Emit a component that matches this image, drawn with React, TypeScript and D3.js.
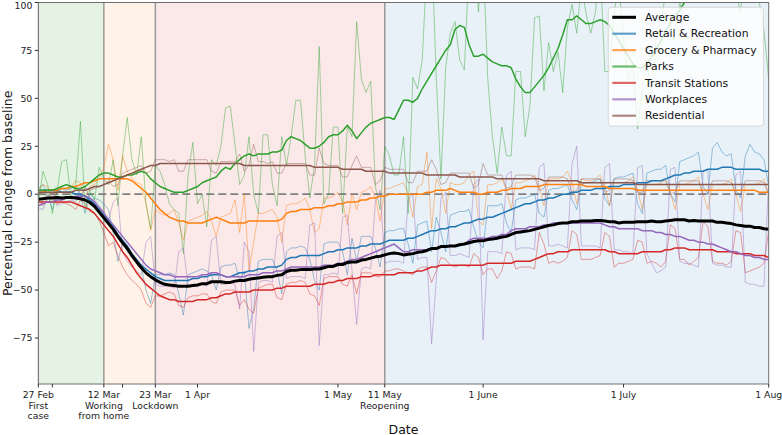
import * as d3 from "d3";
import React, { useRef, useEffect } from "react";

// Google mobility, Netherlands, daily values from 27 Feb 2020 to 1 Aug 2020
const startDate = new Date(2020, 1, 27);
const endDate = new Date(2020, 7, 1);

// raw daily values (thin lines), one row per week starting on a Thursday
const retailRaw = [
  3, 5, 0, -8, 2, 3, 2,
  3, 4, -1, -10, 0, -2, -3,
  -5, -8, -20, -35, -25, -30, -33,
  -35, -38, -50, -57, -42, -42, -42,
  -41, -42, -52, -63, -42, -41, -40,
  -39, -40, -42, -50, -38, -37, -37,
  -36, -45, -40, -70, -60, -35, -34,
  -34, -34, -40, -52, -30, -28, -28,
  -27, -28, -34, -45, -50, -26, -25,
  -25, -25, -30, -42, -23, -35, -22,
  -22, -22, -28, -38, -20, -19, -19,
  -18, -18, -26, -36, -16, -15, -14,
  -30, -12, -20, -30, -11, -10, -9,
  -9, -8, -17, -25, -28, -6, -6,
  -6, -5, -15, -20, -3, -2, -2,
  -1, 0, -10, -12, 2, 3, 3,
  4, 5, -3, -8, 5, 6, 6,
  7, 8, -2, -6, 8, 9, 9,
  10, 11, -5, -10, 11, 12, 13,
  13, 15, 0, -4, 17, 18, 19,
  20, 22, 4, 0, 24, 27, 22,
  20, 21, 2, -2, 20, 26, 22,
  21, 18, 4,
];
const groceryRaw = [
  2, 5, 4, -4, 2, 3, 3,
  4, 7, 6, -2, 4, 5, 8,
  14, 26, 18, 2, 20, 12, 8,
  6, 5, -5, -19, -8, -10, -11,
  -10, -8, -15, -24, -14, -13, -12,
  -11, -9, -14, -22, -12, -11, -10,
  -3, -20, 0, -40, -25, -10, -10,
  -9, -8, -12, -25, -6, -5, -5,
  -4, -2, -8, -20, -18, -2, -2,
  -1, 1, -4, -16, 0, -8, 1,
  2, 4, -2, -14, 3, 3, 4,
  5, 6, 0, -12, 4, 5, 22,
  -18, 8, 3, -10, 6, 5, 5,
  6, 10, 12, -14, -16, 5, 5,
  6, 8, 2, -8, 6, 6, 7,
  8, 10, 4, -6, 8, 8, 8,
  9, 12, 6, -5, 8, 7, 7,
  8, 10, 4, -6, 6, 6, 6,
  7, 9, 2, -8, 5, 5, 5,
  6, 8, 1, -8, 5, 5, 6,
  7, 9, 0, -8, 5, 5, 5,
  6, 8, 0, -9, 5, 5, 5,
  6, 8, -1,
];
const parksRaw = [
  -5, 12, 5, -10, 2, 17, 18,
  -2, 5, 38, -8, 2, -3, 14,
  8, 5, 18, -6, 20, 40, 18,
  10, 30, -5, -18, 15, 12, 5,
  -5, -8, -10, -31, 10, 27, -5,
  0, -17, 18, 15, 25, 45, 46,
  26, 5, 10, 30, 0, -10, 31,
  31, 5, -6, 30, 15, 30, 49,
  49, 20, -2, 15, 77, -5, 0,
  35, 35, -10, 35, 30, 90, 60,
  53, 59, 4, -8, 25, 20, 10,
  10, 30, -10, 61, 55, 70, 120,
  130, 61, 8, 66, 84, 90, 70,
  65, 120, 130, 95, 125, 60, 30,
  11, 35, 20, 20, 64, 64, 30,
  46, 92, 93, 54, 79, 64, 74,
  53, 87, 99, 84, 110, 94, 84,
  95, 120, 64, 64, 95, 110, 80,
  60, 67, 34, 55, 70, 50, 85,
  90, 105, 120, 130, 95, 115, 105,
  130, 120, 140, 110, 120, 100, 130,
  110, 140, 105, 95, 120, 125, 110,
  100, 85, 60,
];
const transitRaw = [
  -3, -6, -2, -1, -5, -4, -5,
  -6, -8, -3, -5, -9, -10, -14,
  -20, -27, -25, -32, -38, -42, -45,
  -47, -50, -57, -59, -53, -53, -52,
  -51, -52, -58, -59, -54, -53, -53,
  -52, -52, -56, -57, -51, -50, -50,
  -50, -58, -55, -60, -62, -49, -48,
  -47, -47, -54, -55, -47, -46, -46,
  -45, -46, -52, -53, -58, -44, -43,
  -43, -43, -47, -48, -42, -52, -41,
  -41, -41, -43, -43, -40, -40, -39,
  -39, -40, -41, -42, -39, -38, -38,
  -46, -40, -33, -34, -37, -38, -37,
  -37, -38, -31, -33, -42, -39, -39,
  -44, -40, -30, -31, -39, -38, -38,
  -38, -39, -20, -26, -36, -35, -36,
  -35, -33, -19, -21, -34, -34, -34,
  -33, -32, -20, -22, -38, -36, -36,
  -35, -34, -24, -25, -36, -35, -36,
  -38, -35, -16, -18, -34, -34, -37,
  -35, -33, -14, -17, -35, -36, -36,
  -37, -35, -19, -20, -41, -40, -39,
  -38, -36, -19,
];
const workplacesRaw = [
  -7, -8, -2, 1, -6, -5, -4,
  -3, -4, 3, 4, -2, -3, -6,
  -9, -14, -4, -2, -30, -35, -38,
  -40, -42, -25, -22, -47, -48, -48,
  -48, -49, -30, -28, -48, -48, -48,
  -47, -48, -24, -22, -47, -47, -46,
  -47, -60, -25, -30, -82, -46, -45,
  -45, -46, -22, -20, -44, -43, -43,
  -43, -44, -16, -15, -79, -42, -42,
  -41, -42, -12, -11, -40, -68, -39,
  -38, -39, -4, 2, -36, -35, -35,
  -35, -36, -3, 0, -34, -33, -33,
  -78, -45, -2, 1, -32, -32, -31,
  -32, -33, 5, 8, -76, -30, -30,
  -30, -31, 10, 12, -29, -28, -28,
  -28, -29, 14, 16, -27, -27, -26,
  -27, -28, 16, 25, -27, -27, -27,
  -27, -28, 14, 16, -29, -29, -30,
  -30, -31, 14, 15, -31, -36, -41,
  -40, -38, 13, 14, -35, -36, -36,
  -37, -38, 12, 13, -36, -37, -37,
  -38, -38, 10, 12, -46, -47, -47,
  -48, -48, 8,
];
const residentialRaw = [
  1, 0, -1, 2, 1, 1, 1,
  1, 0, -1, 3, 2, 3, 4,
  5, 7, 4, 5, 11, 12, 13,
  14, 15, 11, 12, 18, 18, 18,
  17, 18, 12, 12, 18, 18, 18,
  18, 18, 12, 11, 17, 17, 17,
  17, 21, 12, 15, 26, 17, 17,
  16, 17, 11, 11, 16, 16, 16,
  16, 16, 10, 10, 24, 16, 15,
  15, 15, 9, 9, 15, 20, 14,
  14, 14, 5, 7, 14, 13, 13,
  13, 13, 6, 6, 12, 12, 12,
  18, 13, 5, 6, 11, 11, 11,
  11, 11, 3, 5, 16, 10, 10,
  10, 10, 3, 4, 10, 10, 10,
  10, 9, 2, 3, 9, 9, 9,
  9, 8, 1, 2, 8, 8, 8,
  8, 8, 1, 2, 8, 8, 8,
  8, 7, 1, 1, 7, 7, 7,
  7, 7, 0, 1, 7, 7, 7,
  7, 7, 0, 0, 7, 7, 7,
  7, 6, 0, 0, 7, 7, 7,
  7, 6, 0,
];

// smoothed daily values (thick lines)
const retailSmooth = [
  2, 2, 2, 2, 2, 1, 1,
  1, 0, 0, -1, -3, -5, -8,
  -11, -14, -17, -21, -24, -27, -31,
  -34, -37, -39, -41, -43, -44, -45,
  -45, -45, -45, -45, -45, -44, -44,
  -43, -43, -42, -42, -42, -43, -43,
  -42, -41, -41, -40, -40, -39, -39,
  -38, -38, -38, -37, -34, -33, -33,
  -32, -32, -32, -32, -32, -31, -30,
  -30, -29, -29, -28, -28, -28, -27,
  -27, -26, -26, -26, -25, -24, -24,
  -24, -24, -23, -23, -22, -21, -20,
  -19, -19, -18, -18, -17, -17, -16,
  -15, -15, -14, -13, -13, -12, -12,
  -11, -10, -9, -8, -7, -6, -5,
  -5, -4, -3, -3, -2, -2, -1,
  0, 0, 1, 1, 2, 2, 2,
  3, 3, 3, 4, 4, 4, 5,
  5, 5, 6, 6, 6, 7, 7,
  7, 8, 9, 10, 10, 11, 11,
  12, 12, 12, 13, 13, 13, 14,
  14, 14, 13, 13, 13, 13, 13,
  13, 12, 12,
];
const grocerySmooth = [
  1, 1, 2, 2, 2, 3, 3,
  4, 4, 5, 6, 6, 7, 8,
  8, 8, 8, 8, 8, 8, 7,
  5, 3, 1, -2, -5, -8, -10,
  -12, -13, -14, -14, -15, -15, -15,
  -15, -14, -13, -12, -13, -14, -15,
  -15, -15, -15, -14, -14, -14, -14,
  -14, -14, -14, -13, -10, -9, -9,
  -8, -8, -8, -7, -7, -7, -6,
  -6, -5, -5, -4, -4, -4, -3,
  -3, -2, -2, -1, -1, 0, 0,
  0, 0, 0, 0, 0, 0, 1,
  1, 2, 2, 2, 3, 2, 1,
  1, 1, 1, 0, 0, 1, 1,
  1, 2, 2, 3, 3, 3, 4,
  4, 4, 4, 5, 5, 5, 5,
  5, 5, 5, 5, 5, 4, 4,
  4, 4, 4, 3, 3, 3, 3,
  3, 3, 2, 2, 2, 2, 2,
  2, 2, 2, 2, 2, 2, 2,
  2, 2, 2, 2, 2, 2, 2,
  2, 2, 2, 2, 2, 2, 2,
  1, 1, 1,
];
const parksSmooth = [
  2, 2, 2, 2, 3, 4, 5,
  4, 3, 3, 4, 6, 8, 10,
  11, 11, 10, 9, 9, 10, 10,
  11, 12, 11, 8, 6, 4, 3,
  2, 1, 1, 1, 2, 3, 4,
  6, 7, 8, 9, 12, 14, 13,
  16, 18, 20, 21, 20, 21, 21,
  21, 22, 22, 23, 28, 30, 29,
  28, 26, 24, 24, 25, 27, 30,
  31, 31, 33, 36, 33, 29, 32,
  35, 37, 38, 39, 40, 40, 39,
  44, 49, 49, 48, 50, 55, 59,
  63, 67, 71, 75, 78, 86, 88,
  87, 78, 72, 72, 73, 71, 69,
  68, 67, 67, 66, 60, 56, 53,
  53, 56, 59, 62, 66, 71, 76,
  83, 91, 91, 93, 91, 89, 89,
  90, 91, 90, 88, 84, 80, 76,
  72, 68, 66, 66, 68, 72, 76,
  80, 85, 89, 93, 96, 100, 103,
  106, 108, 110, 112, 113, 112, 110,
  110, 112, 115, 118, 117, 115, 114,
  116, 118, 120,
];
const transitSmooth = [
  -4, -4, -4, -4, -4, -4, -4,
  -4, -5, -6, -7, -8, -10, -13,
  -16, -19, -22, -26, -30, -33, -37,
  -41, -44, -47, -49, -51, -53, -54,
  -55, -55, -56, -56, -56, -56, -55,
  -55, -55, -54, -54, -53, -52, -52,
  -51, -51, -51, -51, -50, -50, -50,
  -50, -50, -49, -49, -48, -48, -48,
  -48, -48, -48, -47, -47, -47, -46,
  -46, -45, -45, -44, -44, -44, -43,
  -43, -43, -42, -42, -42, -42, -42,
  -41, -41, -41, -41, -40, -40, -39,
  -38, -38, -37, -37, -37, -37, -37,
  -37, -37, -37, -37, -37, -36, -36,
  -36, -36, -36, -36, -35, -35, -35,
  -35, -34, -33, -32, -31, -31, -30,
  -30, -30, -29, -29, -29, -29, -29,
  -29, -29, -29, -30, -30, -31, -31,
  -31, -31, -31, -30, -30, -30, -30,
  -30, -29, -29, -28, -28, -28, -29,
  -29, -29, -29, -29, -29, -30, -30,
  -30, -30, -31, -31, -31, -31, -32,
  -32, -32, -33,
];
const workplacesSmooth = [
  -6, -5, -4, -4, -3, -3, -2,
  -2, -1, -1, -1, -2, -4, -7,
  -10, -13, -16, -19, -22, -25, -28,
  -31, -34, -37, -39, -40, -41, -42,
  -42, -43, -43, -43, -43, -43, -43,
  -42, -42, -41, -41, -42, -43, -43,
  -43, -43, -43, -42, -42, -42, -41,
  -41, -41, -40, -40, -39, -38, -38,
  -38, -38, -38, -38, -38, -37, -37,
  -37, -36, -36, -35, -34, -34, -33,
  -32, -31, -30, -29, -28, -27, -26,
  -28, -30, -30, -29, -29, -29, -29,
  -28, -28, -27, -27, -27, -27, -26,
  -26, -24, -23, -23, -23, -23, -22,
  -22, -21, -21, -19, -18, -18, -18,
  -17, -17, -17, -16, -16, -15, -15,
  -15, -15, -15, -15, -15, -15, -15,
  -15, -15, -16, -17, -17, -18, -18,
  -18, -18, -18, -19, -19, -19, -20,
  -20, -21, -21, -22, -22, -23, -24,
  -24, -25, -25, -26, -26, -27, -28,
  -29, -30, -30, -31, -32, -32, -33,
  -33, -34, -34,
];
const residentialSmooth = [
  1, 1, 1, 1, 1, 1, 1,
  1, 2, 2, 2, 3, 4, 4,
  5, 6, 7, 8, 9, 10, 11,
  12, 13, 14, 15, 15, 16, 16,
  16, 16, 16, 16, 16, 16, 16,
  16, 16, 16, 16, 16, 16, 16,
  16, 16, 15, 15, 15, 15, 15,
  15, 15, 15, 15, 15, 15, 15,
  15, 15, 15, 14, 14, 14, 14,
  14, 14, 13, 13, 13, 13, 13,
  12, 12, 12, 12, 12, 11, 11,
  11, 11, 11, 11, 11, 11, 10,
  10, 10, 10, 10, 10, 10, 9,
  9, 9, 9, 9, 9, 9, 9,
  8, 8, 8, 8, 8, 8, 8,
  8, 8, 8, 7, 7, 7, 7,
  7, 7, 7, 7, 6, 6, 6,
  6, 6, 6, 6, 6, 6, 6,
  6, 6, 5, 5, 5, 5, 5,
  5, 5, 5, 5, 5, 5, 5,
  5, 5, 5, 5, 5, 5, 5,
  5, 5, 5, 5, 5, 5, 5,
  5, 5, 5,
];

const categories = ["Retail & Recreation", "Grocery & Pharmacy", "Parks", "Transit Stations", "Workplaces", "Residential"];
const colors = ["#1f77b4", "#ff7f0e", "#2ca02c", "#d62728", "#9467bd", "#8c564b"];
const rawSeries = [retailRaw, groceryRaw, parksRaw, transitRaw, workplacesRaw, residentialRaw];
const smoothSeries = [retailSmooth, grocerySmooth, parksSmooth, transitSmooth, workplacesSmooth, residentialSmooth];
// the average line is taken over these three
const averageOf = [retailSmooth, transitSmooth, workplacesSmooth];

const phaseStarts = [new Date(2020, 1, 27), new Date(2020, 2, 12), new Date(2020, 2, 23), new Date(2020, 4, 11)];
const phaseEnds = [new Date(2020, 2, 12), new Date(2020, 2, 23), new Date(2020, 4, 11), new Date(2020, 7, 1)];
const phaseColors = ["#2ca02c", "#ff7f0e", "#d62728", "#1f77b4"];
const phaseOpacity = [0.12, 0.09, 0.1, 0.1];

const tickDates = [
  new Date(2020, 1, 27), new Date(2020, 2, 1), new Date(2020, 2, 12), new Date(2020, 2, 16),
  new Date(2020, 2, 23), new Date(2020, 3, 1), new Date(2020, 4, 1), new Date(2020, 4, 11),
  new Date(2020, 5, 1), new Date(2020, 6, 1), new Date(2020, 7, 1),
];
const tickLabels = [
  ["27 Feb", "First", "case"], [], ["12 Mar", "Working", "from home"], [],
  ["23 Mar", "Lockdown"], ["1 Apr"], ["1 May"], ["11 May", "Reopening"],
  ["1 June"], ["1 July"], ["1 Aug"],
];
const yTicks = [-75, -50, -25, 0, 25, 50, 75, 100];

const width = 782;
const height = 435;
const margin = { top: 2.5, right: 13.3, bottom: 51, left: 38.3 };
const font = "DejaVu Sans, Verdana, sans-serif";

export default function App() {
  const ref = useRef<SVGSVGElement>(null);

  useEffect(() => {
    draw();
  }, []);

  const draw = () => {
    const svg = d3.select(ref.current);
    svg.selectAll("*").remove();

    const x = d3.scaleTime().domain([startDate, endDate]).range([margin.left, width - margin.right]);
    const y = d3.scaleLinear().domain([-99, 100]).range([height - margin.bottom, margin.top]);
    const dayAt = (i: number) => d3.timeDay.offset(startDate, i);

    const x0 = margin.left, x1 = width - margin.right;
    const y0 = margin.top, y1 = height - margin.bottom;

    svg.append("defs").append("clipPath").attr("id", "plot-clip")
      .append("rect").attr("x", x0).attr("y", y0).attr("width", x1 - x0).attr("height", y1 - y0);

    const plot = svg.append("g").attr("clip-path", "url(#plot-clip)");

    // shaded phases
    plot.selectAll("rect.phase")
      .data(phaseStarts)
      .enter()
      .append("rect")
      .attr("class", "phase")
      .attr("x", d => x(d))
      .attr("y", y0)
      .attr("width", (d, i) => x(phaseEnds[i]) - x(d))
      .attr("height", y1 - y0)
      .attr("fill", (d, i) => phaseColors[i])
      .attr("fill-opacity", (d, i) => phaseOpacity[i]);

    // event lines
    plot.selectAll("line.event")
      .data(phaseStarts)
      .enter()
      .append("line")
      .attr("x1", d => x(d)).attr("x2", d => x(d))
      .attr("y1", y0).attr("y2", y1)
      .attr("stroke", "#9a9a9a")
      .attr("stroke-width", 1.5);

    // baseline
    plot.append("line")
      .attr("x1", x0).attr("x2", x1)
      .attr("y1", y(0)).attr("y2", y(0))
      .attr("stroke", "#808080")
      .attr("stroke-width", 1.8)
      .attr("stroke-dasharray", "8,4");

    const line = d3.line<number>()
      .x((d, i) => x(dayAt(i)))
      .y(d => y(d));

    // raw daily lines
    rawSeries.forEach((s, k) => {
      plot.append("path")
        .datum(s)
        .attr("d", line)
        .attr("fill", "none")
        .attr("stroke", colors[k])
        .attr("stroke-width", 0.8)
        .attr("stroke-opacity", 0.55)
        .attr("stroke-linejoin", "round");
    });

    // smoothed lines
    smoothSeries.forEach((s, k) => {
      plot.append("path")
        .datum(s)
        .attr("d", line)
        .attr("fill", "none")
        .attr("stroke", colors[k])
        .attr("stroke-width", 1.5)
        .attr("stroke-linejoin", "round");
    });

    const average = d3.range(retailSmooth.length).map(i => d3.mean(averageOf, s => s[i]) as number);
    plot.append("path")
      .datum(average)
      .attr("d", line)
      .attr("fill", "none")
      .attr("stroke", "black")
      .attr("stroke-width", 3)
      .attr("stroke-linejoin", "round");

    // frame
    svg.append("rect")
      .attr("x", x0).attr("y", y0)
      .attr("width", x1 - x0).attr("height", y1 - y0)
      .attr("fill", "none")
      .attr("stroke", "#6e6e6e")
      .attr("stroke-width", 1);

    // y axis
    const yAxis = svg.append("g");
    yAxis.selectAll("line")
      .data(yTicks)
      .enter()
      .append("line")
      .attr("x1", x0 - 3.5).attr("x2", x0)
      .attr("y1", d => y(d)).attr("y2", d => y(d))
      .attr("stroke", "#333");
    // the top label is nudged down so that it stays inside the page
    yAxis.selectAll("text")
      .data(yTicks)
      .enter()
      .append("text")
      .attr("x", x0 - 6)
      .attr("y", d => Math.max(y(d), 5.8))
      .attr("dy", "0.35em")
      .attr("text-anchor", "end")
      .attr("font-size", "9.3px")
      .attr("font-family", font)
      .attr("fill", "#222")
      .text(d => (d < 0 ? "\u2212" + Math.abs(d) : String(d)));

    // x axis
    const xAxis = svg.append("g");
    xAxis.selectAll("line")
      .data(tickDates)
      .enter()
      .append("line")
      .attr("x1", d => x(d)).attr("x2", d => x(d))
      .attr("y1", y1).attr("y2", y1 + 3.5)
      .attr("stroke", "#333");
    const labels = xAxis.selectAll("text")
      .data(tickDates)
      .enter()
      .append("text")
      .attr("text-anchor", "middle")
      .attr("font-size", "9.3px")
      .attr("font-family", font)
      .attr("fill", "#222");
    labels.each(function (d, i) {
      const t = d3.select(this);
      tickLabels[i].forEach((l, j) => {
        t.append("tspan")
          .attr("x", x(d))
          .attr("y", 398.3 + j * 10.5)
          .text(l);
      });
    });

    // axis titles
    svg.append("text")
      .attr("x", (x0 + x1) / 2)
      .attr("y", 433.5)
      .attr("text-anchor", "middle")
      .attr("font-size", "12.5px")
      .attr("font-family", font)
      .attr("fill", "#111")
      .text("Date");
    svg.append("text")
      .attr("transform", `translate(11.5,${(y0 + y1) / 2}) rotate(-90)`)
      .attr("text-anchor", "middle")
      .attr("font-size", "12.5px")
      .attr("font-family", font)
      .attr("fill", "#111")
      .text("Percentual change from baseline");

    // legend
    const legend = svg.append("g");
    legend.append("rect")
      .attr("x", 608.3).attr("y", 7.3)
      .attr("width", 155.2).attr("height", 118.7)
      .attr("rx", 3)
      .attr("fill", "white")
      .attr("fill-opacity", 0.8)
      .attr("stroke", "#d0d0d0")
      .attr("stroke-width", 0.8);
    const legendNames = ["Average"].concat(categories);
    const legendColors = ["black"].concat(colors);
    legendNames.forEach((name, i) => {
      const ly = 17.3 + i * 16.4;
      legend.append("line")
        .attr("x1", 612.3).attr("x2", 636)
        .attr("y1", ly).attr("y2", ly)
        .attr("stroke", legendColors[i])
        .attr("stroke-width", i === 0 ? 3 : 2.2)
        .attr("stroke-opacity", i === 0 ? 1 : 0.7);
      legend.append("text")
        .attr("x", 645)
        .attr("y", ly)
        .attr("dy", "0.35em")
        .attr("font-size", "10.8px")
        .attr("font-family", font)
        .attr("fill", "#111")
        .text(name);
    });
  };

  return (
    <svg
      ref={ref}
      width={width}
      height={height}
      style={{ position: "absolute", left: 0, top: 0, background: "white" }}
    />
  );
}
